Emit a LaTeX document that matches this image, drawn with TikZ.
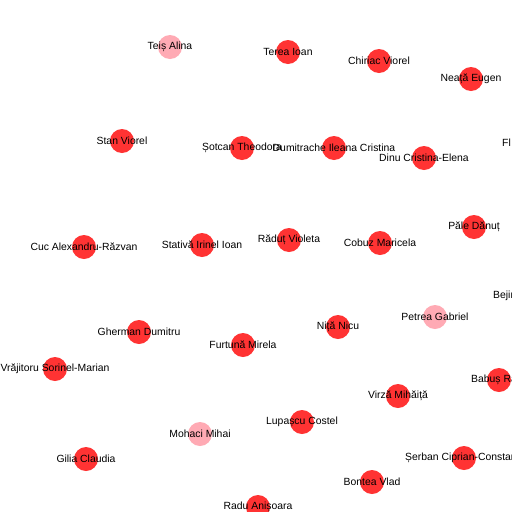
\documentclass[tikz,border=0pt]{standalone}
\usepackage{fontspec}
\setmainfont{Liberation Sans}
\usepackage{tikz}
\usetikzlibrary{arrows,shapes,positioning}
\definecolor{dotred}{RGB}{255,51,51}
\definecolor{dotpink}{RGB}{255,170,180}

\begin{document}
\begin{tikzpicture}[x=1pt,y=1pt]
                    \tikzstyle{every node}+=[inner sep=0pt]
                    \tikzstyle{reddot}=[circle,fill=dotred,minimum size=24pt]
                    \tikzstyle{pinkdot}=[circle,fill=dotpink,minimum size=24pt]
                    \tikzstyle{personname}=[font=\fontsize{10.4}{12}\selectfont,text=black]
                    \useasboundingbox (0,0) rectangle (512,-512);
                    \fill [white] (0,0) rectangle (512,-512);
                    \clip (0,0) rectangle (512,-512);
                    \node [pinkdot] (teis) at (170,-47) {};
                    \node [personname] at (teis) {Teiș Alina};
                    \node [reddot] (terea) at (288,-52) {};
                    \node [personname] at (terea) {Terea Ioan};
                    \node [reddot] (chiriac) at (379,-61) {};
                    \node [personname] at (chiriac) {Chiriac Viorel};
                    \node [reddot] (neata) at (471,-79) {};
                    \node [personname] at (neata) {Neață Eugen};
                    \node [reddot] (stan) at (122,-141) {};
                    \node [personname] at (stan) {Stan Viorel};
                    \node [reddot] (sotcan) at (242,-148) {};
                    \node [personname] at (sotcan) {Șotcan Theodora};
                    \node [reddot] (dumitrache) at (334,-148) {};
                    \node [personname] at (dumitrache) {Dumitrache Ileana Cristina};
                    \node [reddot] (dinu) at (424,-158) {};
                    \node [personname] at (dinu) {Dinu Cristina-Elena};
                    \node [personname,anchor=west] (fl) at (502,-143) {Fl};
                    \node [reddot] (pale) at (474,-227) {};
                    \node [personname] at (pale) {Păle Dănuț};
                    \node [reddot] (cuc) at (84,-247) {};
                    \node [personname] at (cuc) {Cuc Alexandru-Răzvan};
                    \node [reddot] (stativa) at (202,-245) {};
                    \node [personname] at (stativa) {Stativă Irinel Ioan};
                    \node [reddot] (radut) at (289,-240) {};
                    \node [personname] at (radut) {Răduț Violeta};
                    \node [reddot] (cobuz) at (380,-243) {};
                    \node [personname] at (cobuz) {Cobuz Maricela};
                    \node [personname,anchor=west] (bejin) at (493,-296) {Bejin};
                    \node [reddot] (gherman) at (139,-332) {};
                    \node [personname] at (gherman) {Gherman Dumitru};
                    \node [pinkdot] (petrea) at (435,-317) {};
                    \node [personname] at (petrea) {Petrea Gabriel};
                    \node [reddot] (nita) at (338,-327) {};
                    \node [personname] at (nita) {Niță Nicu};
                    \node [reddot] (furtuna) at (243,-345) {};
                    \node [personname] at (furtuna) {Furtună Mirela};
                    \node [reddot] (vrajitoru) at (55,-369) {};
                    \node [personname] at (vrajitoru) {Vrăjitoru Sorinel-Marian};
                    \node [reddot] (virza) at (398,-396) {};
                    \node [personname] at (virza) {Virză Mihăiță};
                    \node [reddot] (babus) at (499,-380) {};
                    \node [personname,anchor=west] at (471,-380) {Babuș Ra};
                    \node [reddot] (lupascu) at (302,-422) {};
                    \node [personname] at (lupascu) {Lupașcu Costel};
                    \node [pinkdot] (mohaci) at (200,-434) {};
                    \node [personname] at (mohaci) {Mohaci Mihai};
                    \node [reddot] (gilia) at (86,-459) {};
                    \node [personname] at (gilia) {Gilia Claudia};
                    \node [reddot] (serban) at (464,-458) {};
                    \node [personname,anchor=west] at (405,-458) {Șerban Ciprian-Constan};
                    \node [reddot] (bontea) at (372,-482) {};
                    \node [personname] at (bontea) {Bontea Vlad};
                    \node [reddot] (radu) at (258,-507) {};
                    \node [personname] at (radu) {Radu Anișoara};
                \end{tikzpicture}
\end{document}
